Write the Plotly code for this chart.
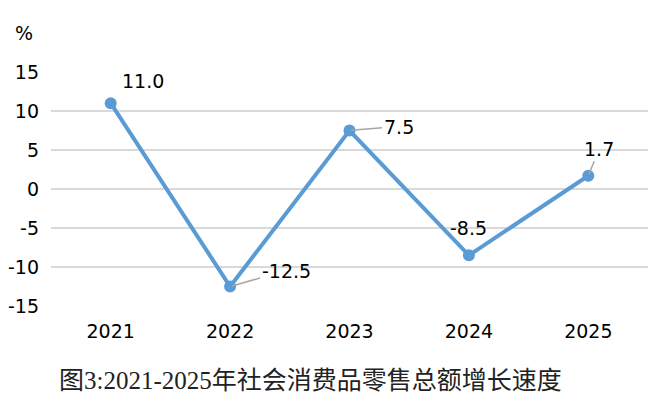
import plotly.graph_objects as go

years = ["2021", "2022", "2023", "2024", "2025"]
growth = [11.0, -12.5, 7.5, -8.5, 1.7]
label_text = ["11.0", "-12.5", "7.5", "-8.5", "1.7"]
y_ticks = [15, 10, 5, 0, -5, -10, -15]
title_text = "图3:2021-2025年社会消费品零售总额增长速度"

fig = go.Figure()
fig.add_trace(go.Scatter(
    x=years, y=growth, mode="lines+markers",
    line=dict(color="#5B9BD5", width=4),
    marker=dict(color="#5B9BD5", size=12),
    showlegend=False, hoverinfo="skip",
))

# label placement (pixel offsets): (ax, ay, arrow)
offsets = [(32, -22, False), (56, -16, True), (49, -4, True), (0, -27, False), (11, -27, True)]
for i, (yv, t, (ax, ay, arr)) in enumerate(zip(growth, label_text, offsets)):
    if arr:
        fig.add_annotation(x=i, y=yv, xref="x", yref="y", text=t,
                           showarrow=True, arrowhead=0, arrowwidth=1.5,
                           arrowcolor="#A6A6A6", ax=ax, ay=ay,
                           standoff=2, font=dict(size=19, color="#000000"))
    else:
        fig.add_annotation(x=i, y=yv, xref="x", yref="y", text=t,
                           showarrow=False, xshift=ax, yshift=-ay,
                           font=dict(size=19, color="#000000"))

fig.add_annotation(text="%", xref="paper", yref="paper", x=-0.046, y=1.0,
                   yshift=39, xanchor="center", yanchor="middle",
                   showarrow=False, font=dict(size=19, color="#000000"))

fig.add_annotation(text=title_text, xref="paper", yref="paper",
                   x=0.434, y=0, yshift=-74, xanchor="center", yanchor="middle",
                   showarrow=False,
                   font=dict(size=25, color="#222222",
                             family="Liberation Serif, Noto Sans CJK SC, serif"))

fig.update_layout(
    template="none",
    width=662, height=410,
    margin=dict(l=51, r=14, t=72, b=104, autoexpand=False),
    paper_bgcolor="white", plot_bgcolor="white",
    font=dict(family="DejaVu Sans", size=19, color="#000000"),
    xaxis=dict(type="category", range=[-0.5, 4.5], showgrid=False,
               showline=False, zeroline=False, ticks="", automargin=False,
               tickfont=dict(size=19), ticklabelstandoff=12),
    yaxis=dict(range=[-15, 15], tickvals=y_ticks,
               ticktext=[str(v) for v in y_ticks], automargin=False,
               showgrid=True, gridcolor="#D9D9D9", gridwidth=2,
               zeroline=False, showline=False, ticks="",
               tickfont=dict(size=19), ticklabelstandoff=11),
)

fig.write_html("out.html", config={"displayModeBar": False},
               post_script="document.body.style.margin='0';document.body.style.overflow='hidden';")
